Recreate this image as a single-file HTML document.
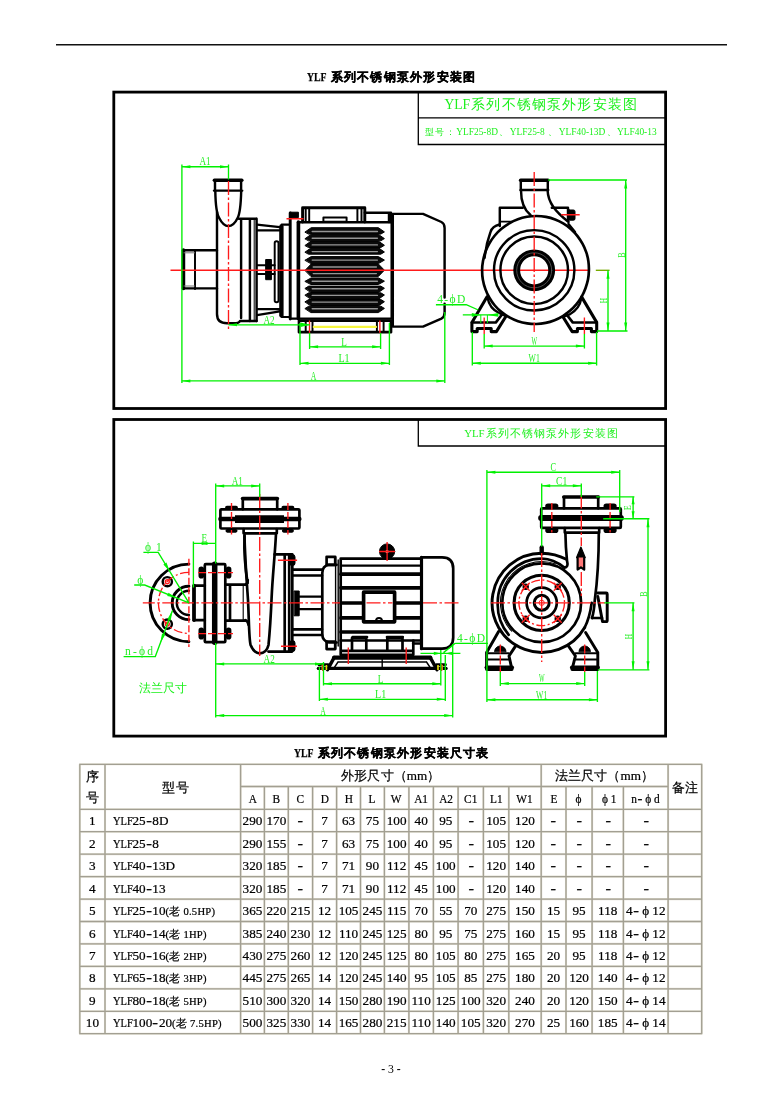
<!DOCTYPE html>
<html lang="zh"><head><meta charset="utf-8"><title>YLF系列不锈钢泵外形安装图</title>
<style>
html,body{margin:0;padding:0;background:#fff}
body{position:relative;width:782px;height:1106px;overflow:hidden;will-change:transform;font-family:"Liberation Serif",serif;color:#000}
svg{position:absolute;left:0;top:0}
.t{position:absolute;white-space:nowrap;font-weight:bold;font-size:12px;line-height:14px;text-align:center}
.j{text-align:justify;text-align-last:justify;text-justify:inter-character}
.t.j{font-size:12.4px;-webkit-text-stroke:.3px #000}
.ylfb{display:inline-block;font-size:13.4px;-webkit-text-stroke:.25px #000;transform:scaleX(.73);transform-origin:0 50%}
.c{position:absolute;white-space:nowrap;text-align:center;font-size:13.2px;overflow:visible;-webkit-text-stroke:.22px #000}
.c.l{text-align:left}
.c.sp{letter-spacing:1px;padding-left:6px;box-sizing:border-box}
.c.sp2{letter-spacing:.1px}
.sm{font-size:10.6px;letter-spacing:.25px}
.ylf{display:inline-block;transform:scaleX(.8);transform-origin:0 50%;margin-right:-5px}
.d{font-weight:bold;display:inline-block;transform:scaleX(1.25)}
.d2{font-weight:bold;display:inline-block;transform:scaleX(1.3);margin:0 1.1px}
.p{font-style:normal;display:inline-block;width:13.2px;text-align:center}
.hl{display:inline-block;transform:scaleX(.86)}
.g{position:absolute;white-space:nowrap;color:#1cf01c;text-align:center}
svg text{font-family:"Liberation Serif",serif}
</style></head><body>
<div class="t" style="left:307px;top:70px"><span class="ylfb">YLF</span></div><div class="t j" style="left:330.6px;top:70px;width:144.4px">系列不锈钢泵外形安装图</div>
<div class="t" style="left:294px;top:746px"><span class="ylfb">YLF</span></div><div class="t j" style="left:317.8px;top:746px;width:170.6px">系列不锈钢泵外形安装尺寸表</div>
<div class="t" style="left:340.8px;top:1061.8px;width:100px;font-size:13px;font-weight:normal;transform:scaleX(.9)"><b>-</b> 3 <b>-</b></div>
<div class="g j" style="left:444.4px;top:96px;width:192.6px;font-size:13.6px;line-height:18px">YLF系列不锈钢泵外形安装图</div>
<div class="g j" style="left:425px;top:126px;width:231.6px;font-size:9.4px;line-height:12px">型号：YLF25-8D、YLF25-8 、YLF40-13D、YLF40-13</div>
<div class="g j" style="left:464.2px;top:427.2px;width:153.6px;font-size:10.8px;line-height:12px">YLF系列不锈钢泵外形安装图</div>
<div class="g j" style="left:138.8px;top:682.2px;width:48.4px;font-size:11.6px;line-height:14px">法兰尺寸</div>
<div class="c" style="left:79.8px;top:765.6px;width:25.2px;height:21.9px;line-height:21.9px">序</div><div class="c" style="left:79.8px;top:787.2px;width:25.2px;height:22.1px;line-height:22.1px">号</div><div class="c sp" style="left:105.0px;top:765.3px;width:135.6px;height:45.0px;line-height:45.0px">型号</div><div class="c sp2" style="left:240.6px;top:765.3px;width:300.6px;height:22.2px;line-height:22.2px">外形尺寸（mm）</div><div class="c sp2" style="left:541.2px;top:765.3px;width:126.9px;height:22.2px;line-height:22.2px">法兰尺寸（mm）</div><div class="c" style="left:668.1px;top:765.3px;width:33.6px;height:45.0px;line-height:45.0px">备注</div><div class="c" style="left:240.6px;top:787.5px;width:23.8px;height:22.8px;line-height:22.8px"><span class="hl">A</span></div><div class="c" style="left:264.4px;top:787.5px;width:23.9px;height:22.8px;line-height:22.8px"><span class="hl">B</span></div><div class="c" style="left:288.3px;top:787.5px;width:24.3px;height:22.8px;line-height:22.8px"><span class="hl">C</span></div><div class="c" style="left:312.6px;top:787.5px;width:24.0px;height:22.8px;line-height:22.8px"><span class="hl">D</span></div><div class="c" style="left:336.6px;top:787.5px;width:23.9px;height:22.8px;line-height:22.8px"><span class="hl">H</span></div><div class="c" style="left:360.5px;top:787.5px;width:23.9px;height:22.8px;line-height:22.8px"><span class="hl">L</span></div><div class="c" style="left:384.4px;top:787.5px;width:24.5px;height:22.8px;line-height:22.8px"><span class="hl">W</span></div><div class="c" style="left:408.9px;top:787.5px;width:24.5px;height:22.8px;line-height:22.8px"><span class="hl">A1</span></div><div class="c" style="left:433.4px;top:787.5px;width:24.7px;height:22.8px;line-height:22.8px"><span class="hl">A2</span></div><div class="c" style="left:458.1px;top:787.5px;width:25.3px;height:22.8px;line-height:22.8px"><span class="hl">C1</span></div><div class="c" style="left:483.4px;top:787.5px;width:25.4px;height:22.8px;line-height:22.8px"><span class="hl">L1</span></div><div class="c" style="left:508.8px;top:787.5px;width:32.4px;height:22.8px;line-height:22.8px"><span class="hl">W1</span></div><div class="c" style="left:541.2px;top:787.5px;width:24.8px;height:22.8px;line-height:22.8px"><span class="hl">E</span></div><div class="c" style="left:566.0px;top:787.5px;width:26.1px;height:22.8px;line-height:22.8px"><span class="hl"><i class="p">ϕ</i></span></div><div class="c" style="left:592.1px;top:787.5px;width:31.3px;height:22.8px;line-height:22.8px"><span class="hl"><i class="p">ϕ</i>1</span></div><div class="c" style="left:623.4px;top:787.5px;width:44.7px;height:22.8px;line-height:22.8px"><span class="hl">n<b class="d2">-</b><i class="p">ϕ</i>d</span></div><div class="c" style="left:79.8px;top:810.3px;width:25.2px;height:22.4px;line-height:22.4px">1</div><div class="c l" style="left:112.6px;top:810.3px;width:128.0px;height:22.4px;line-height:22.4px"><span class="ylf">YLF</span>25<b class="d2">-</b>8D</div><div class="c" style="left:240.6px;top:810.3px;width:23.8px;height:22.4px;line-height:22.4px">290</div><div class="c" style="left:264.4px;top:810.3px;width:23.9px;height:22.4px;line-height:22.4px">170</div><div class="c" style="left:288.3px;top:810.3px;width:24.3px;height:22.4px;line-height:22.4px"><b class="d">-</b></div><div class="c" style="left:312.6px;top:810.3px;width:24.0px;height:22.4px;line-height:22.4px">7</div><div class="c" style="left:336.6px;top:810.3px;width:23.9px;height:22.4px;line-height:22.4px">63</div><div class="c" style="left:360.5px;top:810.3px;width:23.9px;height:22.4px;line-height:22.4px">75</div><div class="c" style="left:384.4px;top:810.3px;width:24.5px;height:22.4px;line-height:22.4px">100</div><div class="c" style="left:408.9px;top:810.3px;width:24.5px;height:22.4px;line-height:22.4px">40</div><div class="c" style="left:433.4px;top:810.3px;width:24.7px;height:22.4px;line-height:22.4px">95</div><div class="c" style="left:458.1px;top:810.3px;width:25.3px;height:22.4px;line-height:22.4px"><b class="d">-</b></div><div class="c" style="left:483.4px;top:810.3px;width:25.4px;height:22.4px;line-height:22.4px">105</div><div class="c" style="left:508.8px;top:810.3px;width:32.4px;height:22.4px;line-height:22.4px">120</div><div class="c" style="left:541.2px;top:810.3px;width:24.8px;height:22.4px;line-height:22.4px"><b class="d">-</b></div><div class="c" style="left:566.0px;top:810.3px;width:26.1px;height:22.4px;line-height:22.4px"><b class="d">-</b></div><div class="c" style="left:592.1px;top:810.3px;width:31.3px;height:22.4px;line-height:22.4px"><b class="d">-</b></div><div class="c" style="left:623.4px;top:810.3px;width:44.7px;height:22.4px;line-height:22.4px"><b class="d">-</b></div><div class="c" style="left:79.8px;top:832.7px;width:25.2px;height:22.4px;line-height:22.4px">2</div><div class="c l" style="left:112.6px;top:832.7px;width:128.0px;height:22.4px;line-height:22.4px"><span class="ylf">YLF</span>25<b class="d2">-</b>8</div><div class="c" style="left:240.6px;top:832.7px;width:23.8px;height:22.4px;line-height:22.4px">290</div><div class="c" style="left:264.4px;top:832.7px;width:23.9px;height:22.4px;line-height:22.4px">155</div><div class="c" style="left:288.3px;top:832.7px;width:24.3px;height:22.4px;line-height:22.4px"><b class="d">-</b></div><div class="c" style="left:312.6px;top:832.7px;width:24.0px;height:22.4px;line-height:22.4px">7</div><div class="c" style="left:336.6px;top:832.7px;width:23.9px;height:22.4px;line-height:22.4px">63</div><div class="c" style="left:360.5px;top:832.7px;width:23.9px;height:22.4px;line-height:22.4px">75</div><div class="c" style="left:384.4px;top:832.7px;width:24.5px;height:22.4px;line-height:22.4px">100</div><div class="c" style="left:408.9px;top:832.7px;width:24.5px;height:22.4px;line-height:22.4px">40</div><div class="c" style="left:433.4px;top:832.7px;width:24.7px;height:22.4px;line-height:22.4px">95</div><div class="c" style="left:458.1px;top:832.7px;width:25.3px;height:22.4px;line-height:22.4px"><b class="d">-</b></div><div class="c" style="left:483.4px;top:832.7px;width:25.4px;height:22.4px;line-height:22.4px">105</div><div class="c" style="left:508.8px;top:832.7px;width:32.4px;height:22.4px;line-height:22.4px">120</div><div class="c" style="left:541.2px;top:832.7px;width:24.8px;height:22.4px;line-height:22.4px"><b class="d">-</b></div><div class="c" style="left:566.0px;top:832.7px;width:26.1px;height:22.4px;line-height:22.4px"><b class="d">-</b></div><div class="c" style="left:592.1px;top:832.7px;width:31.3px;height:22.4px;line-height:22.4px"><b class="d">-</b></div><div class="c" style="left:623.4px;top:832.7px;width:44.7px;height:22.4px;line-height:22.4px"><b class="d">-</b></div><div class="c" style="left:79.8px;top:855.2px;width:25.2px;height:22.4px;line-height:22.4px">3</div><div class="c l" style="left:112.6px;top:855.2px;width:128.0px;height:22.4px;line-height:22.4px"><span class="ylf">YLF</span>40<b class="d2">-</b>13D</div><div class="c" style="left:240.6px;top:855.2px;width:23.8px;height:22.4px;line-height:22.4px">320</div><div class="c" style="left:264.4px;top:855.2px;width:23.9px;height:22.4px;line-height:22.4px">185</div><div class="c" style="left:288.3px;top:855.2px;width:24.3px;height:22.4px;line-height:22.4px"><b class="d">-</b></div><div class="c" style="left:312.6px;top:855.2px;width:24.0px;height:22.4px;line-height:22.4px">7</div><div class="c" style="left:336.6px;top:855.2px;width:23.9px;height:22.4px;line-height:22.4px">71</div><div class="c" style="left:360.5px;top:855.2px;width:23.9px;height:22.4px;line-height:22.4px">90</div><div class="c" style="left:384.4px;top:855.2px;width:24.5px;height:22.4px;line-height:22.4px">112</div><div class="c" style="left:408.9px;top:855.2px;width:24.5px;height:22.4px;line-height:22.4px">45</div><div class="c" style="left:433.4px;top:855.2px;width:24.7px;height:22.4px;line-height:22.4px">100</div><div class="c" style="left:458.1px;top:855.2px;width:25.3px;height:22.4px;line-height:22.4px"><b class="d">-</b></div><div class="c" style="left:483.4px;top:855.2px;width:25.4px;height:22.4px;line-height:22.4px">120</div><div class="c" style="left:508.8px;top:855.2px;width:32.4px;height:22.4px;line-height:22.4px">140</div><div class="c" style="left:541.2px;top:855.2px;width:24.8px;height:22.4px;line-height:22.4px"><b class="d">-</b></div><div class="c" style="left:566.0px;top:855.2px;width:26.1px;height:22.4px;line-height:22.4px"><b class="d">-</b></div><div class="c" style="left:592.1px;top:855.2px;width:31.3px;height:22.4px;line-height:22.4px"><b class="d">-</b></div><div class="c" style="left:623.4px;top:855.2px;width:44.7px;height:22.4px;line-height:22.4px"><b class="d">-</b></div><div class="c" style="left:79.8px;top:877.6px;width:25.2px;height:22.4px;line-height:22.4px">4</div><div class="c l" style="left:112.6px;top:877.6px;width:128.0px;height:22.4px;line-height:22.4px"><span class="ylf">YLF</span>40<b class="d2">-</b>13</div><div class="c" style="left:240.6px;top:877.6px;width:23.8px;height:22.4px;line-height:22.4px">320</div><div class="c" style="left:264.4px;top:877.6px;width:23.9px;height:22.4px;line-height:22.4px">185</div><div class="c" style="left:288.3px;top:877.6px;width:24.3px;height:22.4px;line-height:22.4px"><b class="d">-</b></div><div class="c" style="left:312.6px;top:877.6px;width:24.0px;height:22.4px;line-height:22.4px">7</div><div class="c" style="left:336.6px;top:877.6px;width:23.9px;height:22.4px;line-height:22.4px">71</div><div class="c" style="left:360.5px;top:877.6px;width:23.9px;height:22.4px;line-height:22.4px">90</div><div class="c" style="left:384.4px;top:877.6px;width:24.5px;height:22.4px;line-height:22.4px">112</div><div class="c" style="left:408.9px;top:877.6px;width:24.5px;height:22.4px;line-height:22.4px">45</div><div class="c" style="left:433.4px;top:877.6px;width:24.7px;height:22.4px;line-height:22.4px">100</div><div class="c" style="left:458.1px;top:877.6px;width:25.3px;height:22.4px;line-height:22.4px"><b class="d">-</b></div><div class="c" style="left:483.4px;top:877.6px;width:25.4px;height:22.4px;line-height:22.4px">120</div><div class="c" style="left:508.8px;top:877.6px;width:32.4px;height:22.4px;line-height:22.4px">140</div><div class="c" style="left:541.2px;top:877.6px;width:24.8px;height:22.4px;line-height:22.4px"><b class="d">-</b></div><div class="c" style="left:566.0px;top:877.6px;width:26.1px;height:22.4px;line-height:22.4px"><b class="d">-</b></div><div class="c" style="left:592.1px;top:877.6px;width:31.3px;height:22.4px;line-height:22.4px"><b class="d">-</b></div><div class="c" style="left:623.4px;top:877.6px;width:44.7px;height:22.4px;line-height:22.4px"><b class="d">-</b></div><div class="c" style="left:79.8px;top:900.1px;width:25.2px;height:22.4px;line-height:22.4px">5</div><div class="c l" style="left:112.6px;top:900.1px;width:128.0px;height:22.4px;line-height:22.4px"><span class="ylf">YLF</span>25<b class="d2">-</b>10<span class="sm">(老 0.5HP)</span></div><div class="c" style="left:240.6px;top:900.1px;width:23.8px;height:22.4px;line-height:22.4px">365</div><div class="c" style="left:264.4px;top:900.1px;width:23.9px;height:22.4px;line-height:22.4px">220</div><div class="c" style="left:288.3px;top:900.1px;width:24.3px;height:22.4px;line-height:22.4px">215</div><div class="c" style="left:312.6px;top:900.1px;width:24.0px;height:22.4px;line-height:22.4px">12</div><div class="c" style="left:336.6px;top:900.1px;width:23.9px;height:22.4px;line-height:22.4px">105</div><div class="c" style="left:360.5px;top:900.1px;width:23.9px;height:22.4px;line-height:22.4px">245</div><div class="c" style="left:384.4px;top:900.1px;width:24.5px;height:22.4px;line-height:22.4px">115</div><div class="c" style="left:408.9px;top:900.1px;width:24.5px;height:22.4px;line-height:22.4px">70</div><div class="c" style="left:433.4px;top:900.1px;width:24.7px;height:22.4px;line-height:22.4px">55</div><div class="c" style="left:458.1px;top:900.1px;width:25.3px;height:22.4px;line-height:22.4px">70</div><div class="c" style="left:483.4px;top:900.1px;width:25.4px;height:22.4px;line-height:22.4px">275</div><div class="c" style="left:508.8px;top:900.1px;width:32.4px;height:22.4px;line-height:22.4px">150</div><div class="c" style="left:541.2px;top:900.1px;width:24.8px;height:22.4px;line-height:22.4px">15</div><div class="c" style="left:566.0px;top:900.1px;width:26.1px;height:22.4px;line-height:22.4px">95</div><div class="c" style="left:592.1px;top:900.1px;width:31.3px;height:22.4px;line-height:22.4px">118</div><div class="c" style="left:623.4px;top:900.1px;width:44.7px;height:22.4px;line-height:22.4px">4<b class="d2">-</b><i class="p">ϕ</i>12</div><div class="c" style="left:79.8px;top:922.5px;width:25.2px;height:22.4px;line-height:22.4px">6</div><div class="c l" style="left:112.6px;top:922.5px;width:128.0px;height:22.4px;line-height:22.4px"><span class="ylf">YLF</span>40<b class="d2">-</b>14<span class="sm">(老 1HP)</span></div><div class="c" style="left:240.6px;top:922.5px;width:23.8px;height:22.4px;line-height:22.4px">385</div><div class="c" style="left:264.4px;top:922.5px;width:23.9px;height:22.4px;line-height:22.4px">240</div><div class="c" style="left:288.3px;top:922.5px;width:24.3px;height:22.4px;line-height:22.4px">230</div><div class="c" style="left:312.6px;top:922.5px;width:24.0px;height:22.4px;line-height:22.4px">12</div><div class="c" style="left:336.6px;top:922.5px;width:23.9px;height:22.4px;line-height:22.4px">110</div><div class="c" style="left:360.5px;top:922.5px;width:23.9px;height:22.4px;line-height:22.4px">245</div><div class="c" style="left:384.4px;top:922.5px;width:24.5px;height:22.4px;line-height:22.4px">125</div><div class="c" style="left:408.9px;top:922.5px;width:24.5px;height:22.4px;line-height:22.4px">80</div><div class="c" style="left:433.4px;top:922.5px;width:24.7px;height:22.4px;line-height:22.4px">95</div><div class="c" style="left:458.1px;top:922.5px;width:25.3px;height:22.4px;line-height:22.4px">75</div><div class="c" style="left:483.4px;top:922.5px;width:25.4px;height:22.4px;line-height:22.4px">275</div><div class="c" style="left:508.8px;top:922.5px;width:32.4px;height:22.4px;line-height:22.4px">160</div><div class="c" style="left:541.2px;top:922.5px;width:24.8px;height:22.4px;line-height:22.4px">15</div><div class="c" style="left:566.0px;top:922.5px;width:26.1px;height:22.4px;line-height:22.4px">95</div><div class="c" style="left:592.1px;top:922.5px;width:31.3px;height:22.4px;line-height:22.4px">118</div><div class="c" style="left:623.4px;top:922.5px;width:44.7px;height:22.4px;line-height:22.4px">4<b class="d2">-</b><i class="p">ϕ</i>12</div><div class="c" style="left:79.8px;top:944.9px;width:25.2px;height:22.4px;line-height:22.4px">7</div><div class="c l" style="left:112.6px;top:944.9px;width:128.0px;height:22.4px;line-height:22.4px"><span class="ylf">YLF</span>50<b class="d2">-</b>16<span class="sm">(老 2HP)</span></div><div class="c" style="left:240.6px;top:944.9px;width:23.8px;height:22.4px;line-height:22.4px">430</div><div class="c" style="left:264.4px;top:944.9px;width:23.9px;height:22.4px;line-height:22.4px">275</div><div class="c" style="left:288.3px;top:944.9px;width:24.3px;height:22.4px;line-height:22.4px">260</div><div class="c" style="left:312.6px;top:944.9px;width:24.0px;height:22.4px;line-height:22.4px">12</div><div class="c" style="left:336.6px;top:944.9px;width:23.9px;height:22.4px;line-height:22.4px">120</div><div class="c" style="left:360.5px;top:944.9px;width:23.9px;height:22.4px;line-height:22.4px">245</div><div class="c" style="left:384.4px;top:944.9px;width:24.5px;height:22.4px;line-height:22.4px">125</div><div class="c" style="left:408.9px;top:944.9px;width:24.5px;height:22.4px;line-height:22.4px">80</div><div class="c" style="left:433.4px;top:944.9px;width:24.7px;height:22.4px;line-height:22.4px">105</div><div class="c" style="left:458.1px;top:944.9px;width:25.3px;height:22.4px;line-height:22.4px">80</div><div class="c" style="left:483.4px;top:944.9px;width:25.4px;height:22.4px;line-height:22.4px">275</div><div class="c" style="left:508.8px;top:944.9px;width:32.4px;height:22.4px;line-height:22.4px">165</div><div class="c" style="left:541.2px;top:944.9px;width:24.8px;height:22.4px;line-height:22.4px">20</div><div class="c" style="left:566.0px;top:944.9px;width:26.1px;height:22.4px;line-height:22.4px">95</div><div class="c" style="left:592.1px;top:944.9px;width:31.3px;height:22.4px;line-height:22.4px">118</div><div class="c" style="left:623.4px;top:944.9px;width:44.7px;height:22.4px;line-height:22.4px">4<b class="d2">-</b><i class="p">ϕ</i>12</div><div class="c" style="left:79.8px;top:967.4px;width:25.2px;height:22.4px;line-height:22.4px">8</div><div class="c l" style="left:112.6px;top:967.4px;width:128.0px;height:22.4px;line-height:22.4px"><span class="ylf">YLF</span>65<b class="d2">-</b>18<span class="sm">(老 3HP)</span></div><div class="c" style="left:240.6px;top:967.4px;width:23.8px;height:22.4px;line-height:22.4px">445</div><div class="c" style="left:264.4px;top:967.4px;width:23.9px;height:22.4px;line-height:22.4px">275</div><div class="c" style="left:288.3px;top:967.4px;width:24.3px;height:22.4px;line-height:22.4px">265</div><div class="c" style="left:312.6px;top:967.4px;width:24.0px;height:22.4px;line-height:22.4px">14</div><div class="c" style="left:336.6px;top:967.4px;width:23.9px;height:22.4px;line-height:22.4px">120</div><div class="c" style="left:360.5px;top:967.4px;width:23.9px;height:22.4px;line-height:22.4px">245</div><div class="c" style="left:384.4px;top:967.4px;width:24.5px;height:22.4px;line-height:22.4px">140</div><div class="c" style="left:408.9px;top:967.4px;width:24.5px;height:22.4px;line-height:22.4px">95</div><div class="c" style="left:433.4px;top:967.4px;width:24.7px;height:22.4px;line-height:22.4px">105</div><div class="c" style="left:458.1px;top:967.4px;width:25.3px;height:22.4px;line-height:22.4px">85</div><div class="c" style="left:483.4px;top:967.4px;width:25.4px;height:22.4px;line-height:22.4px">275</div><div class="c" style="left:508.8px;top:967.4px;width:32.4px;height:22.4px;line-height:22.4px">180</div><div class="c" style="left:541.2px;top:967.4px;width:24.8px;height:22.4px;line-height:22.4px">20</div><div class="c" style="left:566.0px;top:967.4px;width:26.1px;height:22.4px;line-height:22.4px">120</div><div class="c" style="left:592.1px;top:967.4px;width:31.3px;height:22.4px;line-height:22.4px">140</div><div class="c" style="left:623.4px;top:967.4px;width:44.7px;height:22.4px;line-height:22.4px">4<b class="d2">-</b><i class="p">ϕ</i>12</div><div class="c" style="left:79.8px;top:989.8px;width:25.2px;height:22.4px;line-height:22.4px">9</div><div class="c l" style="left:112.6px;top:989.8px;width:128.0px;height:22.4px;line-height:22.4px"><span class="ylf">YLF</span>80<b class="d2">-</b>18<span class="sm">(老 5HP)</span></div><div class="c" style="left:240.6px;top:989.8px;width:23.8px;height:22.4px;line-height:22.4px">510</div><div class="c" style="left:264.4px;top:989.8px;width:23.9px;height:22.4px;line-height:22.4px">300</div><div class="c" style="left:288.3px;top:989.8px;width:24.3px;height:22.4px;line-height:22.4px">320</div><div class="c" style="left:312.6px;top:989.8px;width:24.0px;height:22.4px;line-height:22.4px">14</div><div class="c" style="left:336.6px;top:989.8px;width:23.9px;height:22.4px;line-height:22.4px">150</div><div class="c" style="left:360.5px;top:989.8px;width:23.9px;height:22.4px;line-height:22.4px">280</div><div class="c" style="left:384.4px;top:989.8px;width:24.5px;height:22.4px;line-height:22.4px">190</div><div class="c" style="left:408.9px;top:989.8px;width:24.5px;height:22.4px;line-height:22.4px">110</div><div class="c" style="left:433.4px;top:989.8px;width:24.7px;height:22.4px;line-height:22.4px">125</div><div class="c" style="left:458.1px;top:989.8px;width:25.3px;height:22.4px;line-height:22.4px">100</div><div class="c" style="left:483.4px;top:989.8px;width:25.4px;height:22.4px;line-height:22.4px">320</div><div class="c" style="left:508.8px;top:989.8px;width:32.4px;height:22.4px;line-height:22.4px">240</div><div class="c" style="left:541.2px;top:989.8px;width:24.8px;height:22.4px;line-height:22.4px">20</div><div class="c" style="left:566.0px;top:989.8px;width:26.1px;height:22.4px;line-height:22.4px">120</div><div class="c" style="left:592.1px;top:989.8px;width:31.3px;height:22.4px;line-height:22.4px">150</div><div class="c" style="left:623.4px;top:989.8px;width:44.7px;height:22.4px;line-height:22.4px">4<b class="d2">-</b><i class="p">ϕ</i>14</div><div class="c" style="left:79.8px;top:1012.3px;width:25.2px;height:22.4px;line-height:22.4px">10</div><div class="c l" style="left:112.6px;top:1012.3px;width:128.0px;height:22.4px;line-height:22.4px"><span class="ylf">YLF</span>100<b class="d2">-</b>20<span class="sm">(老 7.5HP)</span></div><div class="c" style="left:240.6px;top:1012.3px;width:23.8px;height:22.4px;line-height:22.4px">500</div><div class="c" style="left:264.4px;top:1012.3px;width:23.9px;height:22.4px;line-height:22.4px">325</div><div class="c" style="left:288.3px;top:1012.3px;width:24.3px;height:22.4px;line-height:22.4px">330</div><div class="c" style="left:312.6px;top:1012.3px;width:24.0px;height:22.4px;line-height:22.4px">14</div><div class="c" style="left:336.6px;top:1012.3px;width:23.9px;height:22.4px;line-height:22.4px">165</div><div class="c" style="left:360.5px;top:1012.3px;width:23.9px;height:22.4px;line-height:22.4px">280</div><div class="c" style="left:384.4px;top:1012.3px;width:24.5px;height:22.4px;line-height:22.4px">215</div><div class="c" style="left:408.9px;top:1012.3px;width:24.5px;height:22.4px;line-height:22.4px">110</div><div class="c" style="left:433.4px;top:1012.3px;width:24.7px;height:22.4px;line-height:22.4px">140</div><div class="c" style="left:458.1px;top:1012.3px;width:25.3px;height:22.4px;line-height:22.4px">105</div><div class="c" style="left:483.4px;top:1012.3px;width:25.4px;height:22.4px;line-height:22.4px">320</div><div class="c" style="left:508.8px;top:1012.3px;width:32.4px;height:22.4px;line-height:22.4px">270</div><div class="c" style="left:541.2px;top:1012.3px;width:24.8px;height:22.4px;line-height:22.4px">25</div><div class="c" style="left:566.0px;top:1012.3px;width:26.1px;height:22.4px;line-height:22.4px">160</div><div class="c" style="left:592.1px;top:1012.3px;width:31.3px;height:22.4px;line-height:22.4px">185</div><div class="c" style="left:623.4px;top:1012.3px;width:44.7px;height:22.4px;line-height:22.4px">4<b class="d2">-</b><i class="p">ϕ</i>14</div>
<svg width="782" height="1106" viewBox="0 0 782 1106">
<path d="M79.2 764.3L702.3 764.3M240.6 786.5L668.1 786.5M79.2 809.3L702.3 809.3M79.2 831.7L702.3 831.7M79.2 854.2L702.3 854.2M79.2 876.6L702.3 876.6M79.2 899.1L702.3 899.1M79.2 921.5L702.3 921.5M79.2 943.9L702.3 943.9M79.2 966.4L702.3 966.4M79.2 988.8L702.3 988.8M79.2 1011.3L702.3 1011.3M79.2 1033.7L702.3 1033.7M79.8 764.3L79.8 1033.7M105.0 764.3L105.0 1033.7M240.6 764.3L240.6 1033.7M264.4 786.5L264.4 1033.7M288.3 786.5L288.3 1033.7M312.6 786.5L312.6 1033.7M336.6 786.5L336.6 1033.7M360.5 786.5L360.5 1033.7M384.4 786.5L384.4 1033.7M408.9 786.5L408.9 1033.7M433.4 786.5L433.4 1033.7M458.1 786.5L458.1 1033.7M483.4 786.5L483.4 1033.7M508.8 786.5L508.8 1033.7M541.2 764.3L541.2 1033.7M566.0 786.5L566.0 1033.7M592.1 786.5L592.1 1033.7M623.4 786.5L623.4 1033.7M668.1 764.3L668.1 1033.7M701.7 764.3L701.7 1033.7" fill="none" stroke="#e2dfd2" stroke-width="2.1"/><path d="M79.2 764.3L702.3 764.3M240.6 786.5L668.1 786.5M79.2 809.3L702.3 809.3M79.2 831.7L702.3 831.7M79.2 854.2L702.3 854.2M79.2 876.6L702.3 876.6M79.2 899.1L702.3 899.1M79.2 921.5L702.3 921.5M79.2 943.9L702.3 943.9M79.2 966.4L702.3 966.4M79.2 988.8L702.3 988.8M79.2 1011.3L702.3 1011.3M79.2 1033.7L702.3 1033.7M79.8 764.3L79.8 1033.7M105.0 764.3L105.0 1033.7M240.6 764.3L240.6 1033.7M264.4 786.5L264.4 1033.7M288.3 786.5L288.3 1033.7M312.6 786.5L312.6 1033.7M336.6 786.5L336.6 1033.7M360.5 786.5L360.5 1033.7M384.4 786.5L384.4 1033.7M408.9 786.5L408.9 1033.7M433.4 786.5L433.4 1033.7M458.1 786.5L458.1 1033.7M483.4 786.5L483.4 1033.7M508.8 786.5L508.8 1033.7M541.2 764.3L541.2 1033.7M566.0 786.5L566.0 1033.7M592.1 786.5L592.1 1033.7M623.4 786.5L623.4 1033.7M668.1 764.3L668.1 1033.7M701.7 764.3L701.7 1033.7" fill="none" stroke="#a29f92" stroke-width="1.3"/>
<path d="M56 44.7H727" stroke="#111" stroke-width="1.5" fill="none"/>
<g fill="none" stroke="#000">
<rect x="113.8" y="92.1" width="551.8" height="316.4" stroke-width="2.8"/>
<rect x="113.8" y="419.5" width="551.8" height="316.6" stroke-width="2.8"/>
<path d="M418.3 93V144.5H665M418.3 117.9H665M418.3 420V446H665" stroke-width="1.3"/>
</g>
<g id="d1-left" fill="none" stroke="#000" stroke-width="2.44" stroke-linejoin="round" stroke-linecap="round">
<path d="M214.4 180.3H241.8" stroke-width="3.54"/>
<path d="M215 180.3V190.6M241.1 180.3V190.6M214 190.6H242.2"/>
<path d="M215.3 191C215.5 203 216 213 219.2 218C222 223.5 225 226.1 228.3 226.1C232 226.1 235 223.5 237.6 218C240.3 213 240.9 203 241.2 191"/>
<path d="M217 212V314Q217 323.3 227 323.3H234Q239 323.3 240 321H256.5"/>
<path d="M241.1 219V318M238.8 218.8H256.4M249.9 218.8V321M256.6 218.8V321"/>
<path d="M254.2 219V321" stroke-width="1.00"/>
<path d="M217 250.2H183V288.4H217"/>
<path d="M183.4 250.2V288.4" stroke-width="3.66"/>
<path d="M195 250.2V289" stroke-width="1.95"/>
<path d="M184 252.8H194.5M184 286H194.5" stroke="#777" stroke-width="1"/>
<path d="M257 224.7L279.8 227.2M257 230.4H279.4M257 315.2L279.8 311.4M257 309.1H279.4" stroke-width="2.20"/>
<path d="M257 265.2H266M257 274H266M271.6 265.2H274.7M271.6 274H274.7" stroke-width="1.95"/>
<rect x="266" y="259.5" width="5.4" height="20.2" fill="#000" stroke-width="1.00"/>
<rect x="274.7" y="241.3" width="3.8" height="61" rx="1.8" stroke-width="1.95"/>
<path d="M281.4 226.5V315.3" stroke-width="4.39"/>
<path d="M281.7 224.7H289.6M281.7 317H289.6" stroke-width="2.20"/>
<path d="M290.2 213V319" stroke-width="2.93"/>
<rect x="290.4" y="212.2" width="8" height="5.4" fill="#000" stroke-width="1.00"/>
<path d="M298.4 222.2V318.6" stroke-width="3.66"/>
<path d="M298.4 222.2H391.7V318.6H290.2"/>
<path d="M302.6 222V207.8H364.8V222" stroke-width="2.93"/>
<path d="M305.7 208V222M309.2 208V222M357.4 208V222M361.5 208V222" stroke-width="1.95"/>
<rect x="323.4" y="217.4" width="23.2" height="4.4" stroke-width="1.95"/>
<path d="M364.8 212.8H391V222M389 213V222"/>
<path d="M305.2 231.9L311.2 227.7L378.4 227.7L384.4 231.9L380.8 234.1L308.8 234.1Z" fill="#0a0a0a" stroke="#000" stroke-width="1.00"/>
<path d="M312.2 231.5H377.4" stroke="#969696" stroke-width="1.40"/>
<path d="M305.2 238.6L311.2 234.4L378.4 234.4L384.4 238.6L380.8 240.8L308.8 240.8Z" fill="#0a0a0a" stroke="#000" stroke-width="1.00"/>
<path d="M312.2 238.2H377.4" stroke="#969696" stroke-width="1.40"/>
<path d="M305.2 245.3L311.2 241.1L378.4 241.1L384.4 245.3L380.8 247.5L308.8 247.5Z" fill="#0a0a0a" stroke="#000" stroke-width="1.00"/>
<path d="M312.2 244.9H377.4" stroke="#969696" stroke-width="1.40"/>
<path d="M305.2 252.0L311.2 247.8L378.4 247.8L384.4 252.0L380.8 254.2L308.8 254.2Z" fill="#0a0a0a" stroke="#000" stroke-width="1.00"/>
<path d="M312.2 251.6H377.4" stroke="#969696" stroke-width="1.40"/>
<path d="M305.2 260.1L311.2 256.6L378.4 256.6L384.4 260.1L378.4 263.6L311.2 263.6Z" fill="#0a0a0a" stroke="#000" stroke-width="1.00"/>
<path d="M312.2 260.1H377.4" stroke="#969696" stroke-width="1.40"/>
<path d="M305.2 270.2L311.2 264.0L378.4 264.0L384.4 270.2L378.4 276.4L311.2 276.4Z" fill="#0a0a0a" stroke="#000" stroke-width="1.00"/>
<path d="M313.2 267.0H376.4M313.2 273.59999999999997H376.4" stroke="#969696" stroke-width="1.30"/>
<path d="M305.2 281.2L311.2 277.9L378.4 277.9L384.4 281.2L378.4 284.5L311.2 284.5Z" fill="#0a0a0a" stroke="#000" stroke-width="1.00"/>
<path d="M312.2 281.2H377.4" stroke="#969696" stroke-width="1.40"/>
<path d="M305.2 288.3L308.8 286.1L380.8 286.1L384.4 288.3L378.4 292.5L311.2 292.5Z" fill="#0a0a0a" stroke="#000" stroke-width="1.00"/>
<path d="M312.2 288.7H377.4" stroke="#969696" stroke-width="1.40"/>
<path d="M305.2 295.0L308.8 292.8L380.8 292.8L384.4 295.0L378.4 299.2L311.2 299.2Z" fill="#0a0a0a" stroke="#000" stroke-width="1.00"/>
<path d="M312.2 295.4H377.4" stroke="#969696" stroke-width="1.40"/>
<path d="M305.2 301.7L308.8 299.5L380.8 299.5L384.4 301.7L378.4 305.9L311.2 305.9Z" fill="#0a0a0a" stroke="#000" stroke-width="1.00"/>
<path d="M312.2 302.1H377.4" stroke="#969696" stroke-width="1.40"/>
<path d="M305.2 308.4L308.8 306.2L380.8 306.2L384.4 308.4L378.4 312.6L311.2 312.6Z" fill="#0a0a0a" stroke="#000" stroke-width="1.00"/>
<path d="M312.2 308.8H377.4" stroke="#969696" stroke-width="1.40"/>
<path d="M392.8 213.9H423L441.4 222Q444.6 223.6 444.6 228V297.5M444.6 303.8V312.6Q444.6 317 441.4 318.6L423 326.6H392.8V213.9"/>
<path d="M299 320.6H391V332.2H299Z" stroke-width="2.68"/>
<path d="M305.7 321V332M312.5 321V332M376.9 321V332M383.6 321V332" stroke-width="1.95"/>
<path d="M313.8 326.9H376" stroke="#f6f63c" stroke-width="2.2"/>
</g>
<g fill="none" stroke="#ff1a1a" stroke-width="1.35">
<path d="M170.5 270.2H589.5"/>
<path d="M228.5 181V331" stroke-dasharray="14 2.5 2.5 2.5"/>
<path d="M286.5 218.7H303.5M309.5 320.5V333M379.9 320.5V333"/>
</g>
<g fill="none" stroke="#00f000" stroke-width="1.35">
<path d="M181.9 166.7H228.5"/><path d="M181.9 166.7L190.4 165.2L190.4 168.2Z" fill="#00f000" stroke="none"/><path d="M228.5 166.7L220.0 168.2L220.0 165.2Z" fill="#00f000" stroke="none"/>
<path d="M181.9 164.5V383M228.5 164.5V179.5"/>
<text x="205" y="165" font-size="11.5" text-anchor="middle" textLength="11.2" lengthAdjust="spacingAndGlyphs" fill="#25ee25" stroke="none">A1</text>
<path d="M228.5 324.8H309.7"/><path d="M228.5 324.8L237.0 323.3L237.0 326.3Z" fill="#00f000" stroke="none"/><path d="M309.7 324.8L300.7 327.0L300.7 322.6Z" fill="#00f000" stroke="none"/>
<text x="269" y="324" font-size="11.5" text-anchor="middle" textLength="11.2" lengthAdjust="spacingAndGlyphs" fill="#25ee25" stroke="none">A2</text>
<path d="M300 323V365M309.6 333V349M380.6 333V349M389.4 323V365M444.8 312V383"/>
<path d="M309.6 346.8H380.6"/><path d="M309.6 346.8L318.1 345.3L318.1 348.3Z" fill="#00f000" stroke="none"/><path d="M380.6 346.8L372.1 348.3L372.1 345.3Z" fill="#00f000" stroke="none"/>
<text x="344" y="345.6" font-size="11.5" text-anchor="middle" textLength="5.6" lengthAdjust="spacingAndGlyphs" fill="#25ee25" stroke="none">L</text>
<path d="M300 363.3H389.4"/><path d="M300.0 363.3L308.5 361.8L308.5 364.8Z" fill="#00f000" stroke="none"/><path d="M389.4 363.3L380.9 364.8L380.9 361.8Z" fill="#00f000" stroke="none"/>
<text x="344" y="362" font-size="11.5" text-anchor="middle" textLength="11.2" lengthAdjust="spacingAndGlyphs" fill="#25ee25" stroke="none">L1</text>
<path d="M181.9 380.9H444.8"/><path d="M181.9 380.9L190.4 379.4L190.4 382.4Z" fill="#00f000" stroke="none"/><path d="M444.8 380.9L436.3 382.4L436.3 379.4Z" fill="#00f000" stroke="none"/>
<text x="313.5" y="380" font-size="11.5" text-anchor="middle" textLength="5.6" lengthAdjust="spacingAndGlyphs" fill="#25ee25" stroke="none">A</text>
</g>
<g id="d1-right" fill="none" stroke="#000" stroke-width="2.44" stroke-linejoin="round" stroke-linecap="round">
<path d="M499.8 226V207.8H522.8M551.8 207.8H568V221"/>
<path d="M500 221.6H512" stroke-width="1.95"/>
<path d="M499.5 224.5Q492.5 226 490.5 232Q486 244 484.6 258"/>
<path d="M568.5 224L575 232"/>
<path d="M520.6 180.2H548" stroke-width="3.42"/>
<path d="M520.8 180.2V190M547.8 180.2V190M520.4 190H548.2"/>
<path d="M521 190.4C521 202 524.5 210 530.5 215"/>
<path d="M547.6 190.4C548 203 556 212 568.6 222"/>
<path d="M588.9 270.5C588.8 273.5 588.6 276.6 588.0 279.6C587.4 282.6 586.5 285.5 585.5 288.3C584.5 291.1 583.2 294.0 581.7 296.6C580.2 299.2 578.4 301.8 576.5 304.1C574.6 306.4 572.5 308.6 570.2 310.6C567.9 312.6 565.4 314.5 562.8 316.1C560.2 317.7 557.5 319.1 554.6 320.2C551.8 321.3 548.7 322.3 545.7 322.9C542.7 323.5 539.6 323.9 536.5 324.0C533.4 324.1 530.3 323.9 527.2 323.4C524.1 322.9 521.0 322.2 518.0 321.2C515.0 320.2 512.1 318.9 509.4 317.4C506.7 315.9 504.0 314.1 501.6 312.1C499.2 310.1 496.8 307.9 494.8 305.5C492.8 303.1 491.0 300.4 489.4 297.7C487.8 295.0 486.5 292.1 485.4 289.1C484.3 286.1 483.4 283.0 482.9 279.9C482.3 276.8 482.1 273.6 482.1 270.5C482.1 267.4 482.4 264.2 483.0 261.1C483.6 258.0 484.3 254.9 485.4 251.9C486.5 248.9 487.8 246.0 489.4 243.3C491.0 240.6 492.8 237.9 494.8 235.5C496.8 233.1 499.1 230.8 501.5 228.8C503.9 226.8 506.6 224.9 509.3 223.3C512.0 221.7 514.9 220.4 517.9 219.3C520.9 218.2 523.9 217.4 527.0 216.8C530.1 216.2 533.3 216.0 536.5 216.0C539.7 216.0 542.9 216.3 546.0 216.9C549.1 217.5 552.2 218.4 555.1 219.5C558.0 220.6 560.9 222.0 563.6 223.6C566.3 225.2 568.8 227.1 571.1 229.2C573.4 231.3 575.6 233.6 577.5 236.1C579.4 238.6 581.1 241.2 582.6 243.9C584.1 246.6 585.3 249.5 586.3 252.4C587.3 255.3 588.0 258.4 588.4 261.4C588.8 264.4 589.0 267.5 588.9 270.5Z" stroke-width="2.68"/>
<path d="M487.6 298Q489.5 308.5 499 313L505.6 316M581.4 298Q579.6 309 569.6 314.4L563 317" stroke-width="2.32"/>
<circle cx="534.2" cy="270.3" r="40.2"/>
<circle cx="534.2" cy="270.3" r="33.8"/>
<circle cx="534.2" cy="270.3" r="17.5" stroke-width="6.83"/>
<circle cx="534.2" cy="270.3" r="17.5" stroke="#555" stroke-width="0.9"/>
<rect x="568" y="210" width="7" height="10.2" rx="1.5" fill="#000" stroke-width="1.00"/>
<path d="M486.9 296.9L471.9 322.4V331.6H477.2V328.4H491.2V331.6H496.4L505.7 316.8" stroke-width="3.05"/>
<path d="M471.9 322.5H495.9M495.9 322.4L502.4 314" stroke-width="2.68"/>
<path d="M581.6 296.9L596.7 322.4V331.6H591.4V328.4H577.4V331.6H572.2L562.9 316.8" stroke-width="3.05"/>
<path d="M596.7 322.5H572.7M572.7 322.4L566.2 314" stroke-width="2.68"/>
</g>
<g fill="none" stroke="#ff1a1a" stroke-width="1.35">
<path d="M534.2 172V332" stroke-dasharray="14 2.5 2.5 2.5"/>
<path d="M561.3 214.7H579.7M484.2 317.6V334M584.4 317.6V334"/>
</g>
<g fill="none" stroke="#00f000" stroke-width="1.35">
<path d="M548.2 180H627M597 331H627.5"/>
<path d="M625.7 180V331"/><path d="M625.7 180.0L627.2 188.5L624.2 188.5Z" fill="#00f000" stroke="none"/><path d="M625.7 331.0L624.2 322.5L627.2 322.5Z" fill="#00f000" stroke="none"/>
<text x="624.5" y="255" font-size="11" text-anchor="middle" textLength="5.4" lengthAdjust="spacingAndGlyphs" fill="#25ee25" stroke="none" transform="rotate(-90 624.5 255)">B</text>
<path d="M595.8 270.3H609.6" stroke="#7a0"/>
<path d="M608 270.3V331"/><path d="M608.0 270.3L609.5 278.8L606.5 278.8Z" fill="#00f000" stroke="none"/><path d="M608.0 331.0L606.5 322.5L609.5 322.5Z" fill="#00f000" stroke="none"/>
<text x="607" y="300.5" font-size="11" text-anchor="middle" textLength="5.4" lengthAdjust="spacingAndGlyphs" fill="#25ee25" stroke="none" transform="rotate(-90 607 300.5)">H</text>
<path d="M484.2 334V348.5M584.4 334V348.5M472.3 332V365.5M596.6 332V365.5"/>
<path d="M484.2 346.1H584.4"/><path d="M484.2 346.1L492.7 344.6L492.7 347.6Z" fill="#00f000" stroke="none"/><path d="M584.4 346.1L575.9 347.6L575.9 344.6Z" fill="#00f000" stroke="none"/>
<text x="534.2" y="344.6" font-size="11.5" text-anchor="middle" textLength="5.6" lengthAdjust="spacingAndGlyphs" fill="#25ee25" stroke="none">W</text>
<path d="M472.3 363.2H596.6"/><path d="M472.3 363.2L480.8 361.7L480.8 364.7Z" fill="#00f000" stroke="none"/><path d="M596.6 363.2L588.1 364.7L588.1 361.7Z" fill="#00f000" stroke="none"/>
<text x="534.2" y="362" font-size="11.5" text-anchor="middle" textLength="11.2" lengthAdjust="spacingAndGlyphs" fill="#25ee25" stroke="none">W1</text>
<path d="M435.9 304.7H466.3L478.3 310M462.8 314.9H497.1"/>
<path d="M480.8 314.9L471.8 316.7L471.8 313.1Z" fill="#00f000" stroke="none"/>
<path d="M487.4 314.9L498.4 313.1L498.4 316.7Z" fill="#00f000" stroke="none"/>
<path d="M480.8 315V323M487.4 315V323" stroke-width="1"/>
<text x="451.2" y="303.4" font-size="11.5" text-anchor="middle" textLength="28.0" lengthAdjust="spacing" fill="#25ee25" stroke="none">4-ϕD</text>
</g>
<g id="d2-left" fill="none" stroke="#000" stroke-width="2.68" stroke-linejoin="round" stroke-linecap="round">
<path d="M188.9 564.1A38.8 38.8 0 0 0 188.9 641.6999999999999" stroke-width="2.93"/>
<path d="M188.9 586.1999999999999A16.7 16.7 0 0 0 188.9 619.6" stroke-width="2.93"/>
<path d="M188.9 590.8A12.1 12.1 0 0 0 188.9 615.0" stroke-width="2.44"/>
<circle cx="167.3" cy="581.7" r="4.6" stroke-width="2.44"/>
<circle cx="167.3" cy="624.1" r="4.6" stroke-width="2.44"/>
<path d="M204.8 585.6H194V620.2H204.8"/>
<path d="M194 585.6V620.2" stroke-width="3.66"/>
<rect x="204.8" y="564.2" width="20.5" height="78" rx="1"/>
<path d="M214.7 564.2V642.2" stroke-width="5.49"/>
<path d="M201.3 569.4V575.8000000000001M228.6 569.4V575.8000000000001" stroke-width="5.61"/>
<path d="M201.3 630.4V636.8000000000001M228.6 630.4V636.8000000000001" stroke-width="5.61"/>
<path d="M225.3 584.7H245.5M225.3 620.6H245.5M230 584.7V620.6"/>
<path d="M243.2 585V620.4" stroke-width="1.10"/>
<path d="M245.5 584.7Q247.5 584 247.8 580M245.5 620.2Q248 621 248.6 625"/>
<path d="M242.6 498.6H277.3" stroke-width="3.66"/>
<path d="M242.8 498.6V509.3M277.2 498.6V509.3"/>
<rect x="220.4" y="509.3" width="79" height="19.2" rx="1"/>
<path d="M220.4 519H299.4" stroke-width="4.39"/>
<path d="M235 519.1H284" stroke-width="7.56" stroke-linecap="butt"/>
<path d="M226.9 507.6H236.1M227.3 530.8H235.7" stroke-width="3.66"/>
<path d="M283.29999999999995 507.6H292.5M283.7 530.8H292.09999999999997" stroke-width="3.66"/>
<path d="M243.6 529V533.3H276.8V529M244.4 533.5C245 560 247 585 248 600C249 620 249 640 250.6 645Q254 653.3 259.7 653.3Q266.5 653.3 268.5 645C270 630 271 612 271.6 598C272.6 575 275 555 276 533.5"/>
<path d="M244.5 536C244 550 245.5 570 247.6 583"/>
<path d="M274.6 554.4H292.3M284.7 554.4V651.6M289.2 554.4V651.6M268.4 651.6H292"/>
<rect x="289.6" y="554.6" width="5.4" height="11" rx="2.4" fill="#000" stroke-width="1.00"/>
<rect x="289.6" y="640.6" width="5.4" height="11" rx="2.4" fill="#000" stroke-width="1.00"/>
<path d="M292.3 569.7H322M292.3 575.5H322M292.3 629.3H322M292.3 635H322M292.3 566V640"/>
<rect x="294.4" y="591" width="4.8" height="24.8" fill="#000" stroke-width="1.00"/>
<path d="M299.4 596.7H322M299.4 609.2H322" stroke-width="2.20"/>
<path d="M336.6 564.8H329Q322.3 566 322.3 573V634Q322.3 641 329 642.5H336.6"/>
<path d="M335.6 557V649M338.2 560V646" stroke-width="1.40"/>
<rect x="326.6" y="556.8" width="8.6" height="8" />
<rect x="326.6" y="641.5" width="8.6" height="7.6" />
<path d="M340.7 558.6H421.5V640.5H340.7Z"/>
<path d="M341 565.6H421" stroke-width="2.32"/>
<path d="M341 574.2H421" stroke-width="3.66"/>
<path d="M341 587.8H421" stroke-width="3.66"/>
<path d="M341 603H421" stroke-width="3.66"/>
<path d="M341 617.9H421" stroke-width="3.66"/>
<path d="M341 632H421" stroke-width="3.66"/>
<rect x="363.6" y="592.2" width="31" height="29.6" fill="#fff" stroke-width="3.66"/>
<path d="M376 621A3 3 0 0 1 382 621" stroke-width="1.95"/>
<circle cx="387.1" cy="551.5" r="7.6" fill="#000" stroke-width="1.00"/>
<circle cx="387.1" cy="551.5" r="1.6" fill="#fff" stroke="none"/>
<path d="M421.5 557.3H442Q453.2 557.3 453.2 568.5V637.5Q453.2 648.7 442 648.7H421.5"/>
<path d="M421.5 557.3V648.7" stroke-width="3.17"/>
<path d="M352 650.6V638H366.3V650.6M387.3 650.6V638H402.5V650.6M352.6 637H367M387 637H402.8"/>
<path d="M340.7 640.5V654.8H413.3V640.5M340.7 650.8H413.3"/>
<path d="M413.3 643.5H421.5" />
<path d="M334.1 657.6H430.3" stroke-width="4.15"/>
<path d="M334.1 657.6L327.5 669.8M430.3 657.6L437 669.8" stroke-width="3.42"/>
<path d="M318.4 668.4H446" stroke-width="3.42"/>
<path d="M338 662L334 668M426.5 662L430.5 668M338 662H426.5M382.2 658V669" stroke-width="1.40"/>
<path d="M319 664.8H328M436.6 664.8H445.4" stroke-width="2.93"/>
</g>
<path d="M322.4 665V670M326.4 665V670M438 665V670M442 665V670" stroke="#e8e000" stroke-width="1.6" fill="none"/>
<g fill="none" stroke="#ff1a1a" stroke-width="1.35">
<path d="M142.8 602.9H246" stroke-dasharray="12 2.5 2.5 2.5"/>
<path d="M246 602.9H340M366.5 602.9H392.5M423 602.9H460" stroke-dasharray="14 2.5 2.5 2.5"/>
<path d="M188.9 558.8V647" stroke-dasharray="7 2.5"/>
<path d="M188.9 572.4A30.5 30.5 0 0 0 188.9 633.4" stroke-dasharray="9 2.5 2 2.5"/>
<circle cx="167.3" cy="581.7" r="2" /><circle cx="167.3" cy="624.1" r="2"/>
<path d="M259.7 494V656" stroke-dasharray="14 2.5 2.5 2.5"/>
<path d="M231.5 503V534.5M287.9 503V534.5" stroke-dasharray="7 2"/>
<path d="M198 572.6H233M198 633.6H233" stroke-dasharray="8 2"/>
<path d="M277.9 560.2H297.1M281 646.2H297M348.3 647.6V664M406.2 647.6V664M387.1 542V561M379 551.5H395M322.8 664V671M441.6 664V671"/>
</g>
<g fill="none" stroke="#00f000" stroke-width="1.35">
<path d="M143.4 552.4H158.2L188.9 602.9M134.2 585H144.7L188.9 602.9M123.6 656.6H155.3L172.5 610.6"/>
<path d="M169.6 571.2L163.4 564.4L166.5 562.6Z" fill="#00f000" stroke="none"/>
<path d="M176.2 597.8L167.2 596.1L168.5 592.7Z" fill="#00f000" stroke="none"/>
<path d="M172.5 610.6L170.7 620.6L167.3 619.3Z" fill="#00f000" stroke="none"/>
<path d="M160.5 642.5L162.0 633.4L165.3 634.7Z" fill="#00f000" stroke="none"/>
<text x="153.4" y="551" font-size="11.5" text-anchor="middle" textLength="16.8" lengthAdjust="spacing" fill="#25ee25" stroke="none">ϕ1</text>
<text x="140.4" y="583.6" font-size="11.5" text-anchor="middle" textLength="11.2" lengthAdjust="spacing" fill="#25ee25" stroke="none">ϕ</text>
<text x="139" y="655.2" font-size="11.5" text-anchor="middle" textLength="28.0" lengthAdjust="spacing" fill="#25ee25" stroke="none">n-ϕd</text>
<path d="M193.4 543.4H215.7M193.4 541.5V587.5"/><path d="M200.5 543.4L207.5 541.9L207.5 544.9Z" fill="#00f000" stroke="none"/><path d="M208.6 543.4L201.6 544.9L201.6 541.9Z" fill="#00f000" stroke="none"/>
<text x="204.4" y="541.8" font-size="11.5" text-anchor="middle" textLength="5.6" lengthAdjust="spacingAndGlyphs" fill="#25ee25" stroke="none">E</text>
<path d="M215.7 485.9H259.7"/><path d="M215.7 485.9L224.2 484.4L224.2 487.4Z" fill="#00f000" stroke="none"/><path d="M259.7 485.9L251.2 487.4L251.2 484.4Z" fill="#00f000" stroke="none"/>
<text x="237.3" y="484.6" font-size="11.5" text-anchor="middle" textLength="11.2" lengthAdjust="spacingAndGlyphs" fill="#25ee25" stroke="none">A1</text>
<path d="M215.7 483.5V563.5M215.7 643V717.5M259.7 483.5V497"/>
<path d="M215.7 663.9H323.5"/><path d="M215.7 663.9L224.2 662.4L224.2 665.4Z" fill="#00f000" stroke="none"/><path d="M323.5 663.9L315.0 665.4L315.0 662.4Z" fill="#00f000" stroke="none"/>
<text x="269.2" y="663" font-size="11.5" text-anchor="middle" textLength="11.2" lengthAdjust="spacingAndGlyphs" fill="#25ee25" stroke="none">A2</text>
<path d="M323.5 662V685.5M319.4 667V701M440.8 650V685.5M445.3 655V701M452.7 644V717.5"/>
<path d="M323.5 683.7H440.8"/><path d="M323.5 683.7L332.0 682.2L332.0 685.2Z" fill="#00f000" stroke="none"/><path d="M440.8 683.7L432.3 685.2L432.3 682.2Z" fill="#00f000" stroke="none"/>
<text x="380.6" y="682.5" font-size="11.5" text-anchor="middle" textLength="5.6" lengthAdjust="spacingAndGlyphs" fill="#25ee25" stroke="none">L</text>
<path d="M319.4 699.3H445.3"/><path d="M319.4 699.3L327.9 697.8L327.9 700.8Z" fill="#00f000" stroke="none"/><path d="M445.3 699.3L436.8 700.8L436.8 697.8Z" fill="#00f000" stroke="none"/>
<text x="380.6" y="698.2" font-size="11.5" text-anchor="middle" textLength="11.2" lengthAdjust="spacingAndGlyphs" fill="#25ee25" stroke="none">L1</text>
<path d="M215.7 715.6H452.7"/><path d="M215.7 715.6L224.2 714.1L224.2 717.1Z" fill="#00f000" stroke="none"/><path d="M452.7 715.6L444.2 717.1L444.2 714.1Z" fill="#00f000" stroke="none"/>
<text x="323" y="714.6" font-size="11.5" text-anchor="middle" textLength="5.6" lengthAdjust="spacingAndGlyphs" fill="#25ee25" stroke="none">A</text>
<path d="M455.2 643.3H488M455.2 643.3L443.5 652.6M420.5 653.4H460.4"/>
<path d="M440.8 653.4L433.8 655.0L433.8 651.8Z" fill="#00f000" stroke="none"/>
<path d="M445.3 653.4L452.3 651.8L452.3 655.0Z" fill="#00f000" stroke="none"/>
<text x="471" y="642.2" font-size="11.5" text-anchor="middle" textLength="28.0" lengthAdjust="spacing" fill="#25ee25" stroke="none">4-ϕD</text>
</g>
<g id="d2-right" fill="none" stroke="#000" stroke-width="2.68" stroke-linejoin="round" stroke-linecap="round">
<path d="M563.8 497H598.4" stroke-width="3.66"/>
<path d="M564 497V508.3M598.2 497V508.3"/>
<rect x="541.2" y="508.3" width="79.6" height="19.6" rx="1"/>
<path d="M541.2 518H620.8" stroke-width="6.10"/>
<path d="M548.0 506.2H555.5999999999999M548.0 530.2H555.5999999999999" stroke-width="5.61"/>
<path d="M606.3000000000001 506.2H613.9M606.3000000000001 530.2H613.9" stroke-width="5.61"/>
<path d="M564.8 528.2V532.6H599.2V528.2"/>
<path d="M565.4 533C565.6 545 566.4 555 567 560.6Q568.8 567.6 564.3 567.6"/>
<path d="M598.8 533C598.8 555 597.5 580 594.8 600Q594 612 592 618"/>
<path d="M580.9 547L576.6 557.6H585.2Z" fill="#000" stroke-width="1.20"/>
<path d="M577.6 557.6V569.6L580.9 567.4L584.2 569.6V557.6" fill="#f77" stroke-width="2.20"/>
<path d="M541.7 553.1999999999999A49.6 49.6 0 1 0 584.7 627.5" stroke-width="2.93"/>
<path d="M541.7 553.1999999999999C551.7 553.4 560.7 556.3 566.3000000000001 559.3"  stroke-width="2.93"/>
<path d="M584.7 627.5Q589.7 617.8 591.7 602.8" stroke-width="2.68"/>
<path d="M564.3000000000001 567.5999999999999Q553.7 558.8 541.7 558.5999999999999A44 44 0 0 0 497.70000000000005 602.8A44.5 46 0 0 0 508.70000000000005 634.8" stroke-width="2.68"/>
<path d="M555.7 564.0A41.3 41.3 0 0 0 511.70000000000005 631.1999999999999" stroke-width="1.10"/>
<path d="M541.7 553.4V547.4" stroke-width="4.39"/>
<circle cx="541.7" cy="602.8" r="39.4" />
<circle cx="541.7" cy="602.8" r="27.6" stroke-width="3.05"/>
<circle cx="541.7" cy="602.8" r="15.1"/>
<circle cx="541.7" cy="602.8" r="7.5" stroke-width="3.05"/>
<circle cx="525.7" cy="586.8" r="2.6" fill="#000" stroke-width="1.20"/>
<circle cx="525.7" cy="618.8" r="2.6" fill="#000" stroke-width="1.20"/>
<circle cx="557.7" cy="586.8" r="2.6" fill="#000" stroke-width="1.20"/>
<circle cx="557.7" cy="618.8" r="2.6" fill="#000" stroke-width="1.20"/>
<path d="M597.5 593H606.2Q607.2 593 607.2 594V620.5Q607.2 621.6 606 621.6H602.5L597.8 596.5" stroke-width="2.93"/>
<path d="M592 618H602" />
<path d="M498.6 631.6L486.6 652.6V669.6H512L509 656L516 645.4" stroke-width="2.93"/>
<path d="M486.6 653.2H508.6M486.6 659.4H509.6" stroke-width="1.95"/>
<path d="M486.6 667.6H512" stroke-width="4.15"/>
<path d="M585.6 632.6L597.8 652.6V669.6H572L575.4 656L568 645.4" stroke-width="2.93"/>
<path d="M597.8 653.2H575.6M597.8 659.4H574.6" stroke-width="1.95"/>
<path d="M572 667.6H597.8" stroke-width="4.15"/>
<path d="M494.6 651.4A5.7 5.4 0 0 1 506 651.4Z" fill="#000" stroke-width="1.00"/>
<path d="M579 651.4A5.7 5.4 0 0 1 590.4 651.4Z" fill="#000" stroke-width="1.00"/>
</g>
<g fill="none" stroke="#ff1a1a" stroke-width="1.35">
<path d="M491 602.8H605" stroke-dasharray="14 2.5 2.5 2.5"/>
<path d="M541.7 553V662" stroke-dasharray="14 2.5 2.5 2.5"/>
<path d="M581.3 494.5V546M581.3 572V596" stroke-dasharray="14 2.5 2.5 2.5"/>
<circle cx="541.7" cy="602.8" r="22.8" stroke-dasharray="9 2.5 2 2.5"/>
<circle cx="541.7" cy="602.8" r="2.6" stroke-width="0.9"/>
<path d="M521.7 582.8L529.7 590.8M521.7 590.8L529.7 582.8" stroke-width="1.3"/>
<path d="M521.7 614.8L529.7 622.8M521.7 622.8L529.7 614.8" stroke-width="1.3"/>
<path d="M553.7 582.8L561.7 590.8M553.7 590.8L561.7 582.8" stroke-width="1.3"/>
<path d="M553.7 614.8L561.7 622.8M553.7 622.8L561.7 614.8" stroke-width="1.3"/>
<path d="M551.8 503V532.5M610.1 503V532.5" stroke-dasharray="7 2"/>
<path d="M500.3 644.5V672M584.7 644.5V672" stroke-dasharray="9 2"/>
</g>
<g fill="none" stroke="#00f000" stroke-width="1.35">
<path d="M486.9 472.2H619.7"/><path d="M486.9 472.2L495.4 470.7L495.4 473.7Z" fill="#00f000" stroke="none"/><path d="M619.7 472.2L611.2 473.7L611.2 470.7Z" fill="#00f000" stroke="none"/>
<text x="553.2" y="471" font-size="11.5" text-anchor="middle" textLength="5.6" lengthAdjust="spacingAndGlyphs" fill="#25ee25" stroke="none">C</text>
<path d="M486.9 470V702M619.7 470V512M541.7 483.5V546.5M581.3 483.5V497"/>
<path d="M541.7 485.8H581.3"/><path d="M541.7 485.8L550.2 484.3L550.2 487.3Z" fill="#00f000" stroke="none"/><path d="M581.3 485.8L572.8 487.3L572.8 484.3Z" fill="#00f000" stroke="none"/>
<text x="561.6" y="484.8" font-size="11.5" text-anchor="middle" textLength="11.2" lengthAdjust="spacingAndGlyphs" fill="#25ee25" stroke="none">C1</text>
<path d="M596.3 496.8H634.4M603.2 518.7H649.4"/>
<path d="M633.1 496.8V518.7"/><path d="M633.1 496.8L634.6 504.3L631.6 504.3Z" fill="#00f000" stroke="none"/><path d="M633.1 518.7L631.6 511.2L634.6 511.2Z" fill="#00f000" stroke="none"/>
<text x="630.6" y="507.8" font-size="10" text-anchor="middle" textLength="4.9" lengthAdjust="spacingAndGlyphs" fill="#25ee25" stroke="none" transform="rotate(-90 630.6 507.8)">E</text>
<path d="M648 518.7V669.8"/><path d="M648.0 518.7L649.5 527.2L646.5 527.2Z" fill="#00f000" stroke="none"/><path d="M648.0 669.8L646.5 661.3L649.5 661.3Z" fill="#00f000" stroke="none"/>
<text x="646.8" y="594" font-size="11" text-anchor="middle" textLength="5.4" lengthAdjust="spacingAndGlyphs" fill="#25ee25" stroke="none" transform="rotate(-90 646.8 594)">B</text>
<path d="M604.3 602.8H634.4M597.9 669.8H649.4"/>
<path d="M633.1 602.8V669.8"/><path d="M633.1 602.8L634.6 611.3L631.6 611.3Z" fill="#00f000" stroke="none"/><path d="M633.1 669.8L631.6 661.3L634.6 661.3Z" fill="#00f000" stroke="none"/>
<text x="632" y="636.5" font-size="11" text-anchor="middle" textLength="5.4" lengthAdjust="spacingAndGlyphs" fill="#25ee25" stroke="none" transform="rotate(-90 632 636.5)">H</text>
<path d="M500.3 672V686M584.7 672V686M597.4 671V702"/>
<path d="M500.3 683.6H584.7"/><path d="M500.3 683.6L508.8 682.1L508.8 685.1Z" fill="#00f000" stroke="none"/><path d="M584.7 683.6L576.2 685.1L576.2 682.1Z" fill="#00f000" stroke="none"/>
<text x="541.7" y="682.4" font-size="11.5" text-anchor="middle" textLength="5.6" lengthAdjust="spacingAndGlyphs" fill="#25ee25" stroke="none">W</text>
<path d="M486.9 699.7H597.4"/><path d="M486.9 699.7L495.4 698.2L495.4 701.2Z" fill="#00f000" stroke="none"/><path d="M597.4 699.7L588.9 701.2L588.9 698.2Z" fill="#00f000" stroke="none"/>
<text x="541.7" y="698.6" font-size="11.5" text-anchor="middle" textLength="11.2" lengthAdjust="spacingAndGlyphs" fill="#25ee25" stroke="none">W1</text>
</g>
</svg>
</body></html>
